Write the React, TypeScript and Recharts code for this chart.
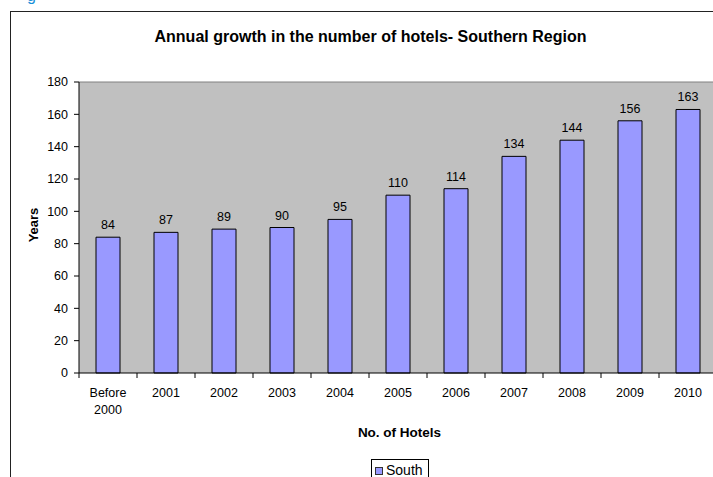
import { BarChart, Bar, XAxis, YAxis, CartesianGrid, LabelList, ReferenceLine } from "recharts";

const years = ["Before 2000", "2001", "2002", "2003", "2004", "2005", "2006", "2007", "2008", "2009", "2010"];
const south = [84, 87, 89, 90, 95, 110, 114, 134, 144, 156, 163];
const yTicks = [0, 20, 40, 60, 80, 100, 120, 140, 160, 180];

const data = years.map((year, i) => ({ year, South: south[i] }));

const FONT = "Arial, 'Liberation Sans', sans-serif";
const PLOT_W = 638;
const BAND = PLOT_W / years.length;

// x tick: Excel puts tick marks between categories and wraps long labels
const XTick = (props: any) => {
  const { x, y, payload } = props;
  const axisY = y - 7;
  const words = String(payload.value).split(" ");
  return (
    <g>
      <line x1={x - BAND / 2} x2={x - BAND / 2} y1={axisY} y2={axisY + 5} stroke="#000" />
      {payload.index === years.length - 1 && (
        <line x1={x + BAND / 2} x2={x + BAND / 2} y1={axisY} y2={axisY + 5} stroke="#000" />
      )}
      <text x={x} y={y} textAnchor="middle" fontFamily={FONT} fontSize={12.5} fill="#000">
        {words.map((w, i) => (
          <tspan key={i} x={x} dy={17}>
            {w}
          </tspan>
        ))}
      </text>
    </g>
  );
};

export default function App() {
  return (
    <div
      style={{
        position: "fixed",
        left: 0,
        top: 0,
        width: 713,
        height: 477,
        overflow: "hidden",
        background: "#fff",
      }}
    >
      <div
        style={{
          position: "absolute",
          left: 27,
          top: -13,
          fontFamily: FONT,
          fontSize: 16,
          color: "#1a8fd8",
        }}
      >
        g
      </div>
      <div
        style={{
          position: "absolute",
          left: 10,
          top: 11,
          width: 730,
          height: 500,
          border: "1px solid #222",
        }}
      />
      <div
        style={{
          position: "absolute",
          left: 0,
          width: 741,
          top: 28,
          textAlign: "center",
          fontFamily: FONT,
          fontSize: 16,
          fontWeight: "bold",
          lineHeight: "18px",
          color: "#000",
        }}
      >
        Annual growth in the number of hotels- Southern Region
      </div>
      <div
        style={{
          position: "absolute",
          left: 33,
          top: 225,
          transform: "translate(-50%, -50%) rotate(-90deg)",
          fontFamily: FONT,
          fontSize: 13,
          fontWeight: "bold",
          color: "#000",
        }}
      >
        Years
      </div>
      <div
        style={{
          position: "absolute",
          left: 0,
          width: 799,
          top: 425,
          textAlign: "center",
          fontFamily: FONT,
          fontSize: 13.5,
          fontWeight: "bold",
          lineHeight: "16px",
          color: "#000",
        }}
      >
        No. of Hotels
      </div>
      {/* legend box */}
      <div
        style={{
          position: "absolute",
          left: 371,
          top: 459,
          width: 58,
          height: 24,
          border: "1px solid #000",
          background: "#fff",
          fontFamily: FONT,
          fontSize: 14,
          lineHeight: "16px",
          color: "#000",
          display: "flex",
          alignItems: "flex-start",
          paddingTop: 2,
          boxSizing: "border-box",
        }}
      >
        <span
          style={{
            display: "inline-block",
            width: 6,
            height: 6,
            background: "#9999FF",
            border: "1px solid #333",
            marginLeft: 3,
            marginRight: 3,
            marginTop: 5,
          }}
        />
        <span>South</span>
      </div>
      <div style={{ position: "absolute", left: 0, top: 0 }}>
        <BarChart
          width={760}
          height={477}
          data={data}
          margin={{ top: 82, right: 43, bottom: 74, left: 0 }}
          barCategoryGap={0}
        >
          <CartesianGrid fill="#C0C0C0" horizontal={false} vertical={false} />
          <XAxis
            dataKey="year"
            axisLine={{ stroke: "#000" }}
            tickLine={false}
            tickSize={5}
            tickMargin={2}
            height={30}
            interval={0}
            tick={<XTick />}
          />
          <YAxis
            width={79}
            domain={[0, 180]}
            ticks={yTicks}
            interval={0}
            axisLine={{ stroke: "#000" }}
            tickLine={{ stroke: "#000" }}
            tickSize={5}
            tickMargin={6}
            tick={{ fontFamily: FONT, fontSize: 12.5, fill: "#000" }}
          />
          <ReferenceLine y={180} stroke="#808080" />
          <Bar dataKey="South" fill="#9999FF" stroke="#000" strokeWidth={1} barSize={24} isAnimationActive={false}>
            <LabelList dataKey="South" position="top" offset={8} fontFamily={FONT} fontSize={12.5} fill="#000" />
          </Bar>
        </BarChart>
      </div>
    </div>
  );
}
